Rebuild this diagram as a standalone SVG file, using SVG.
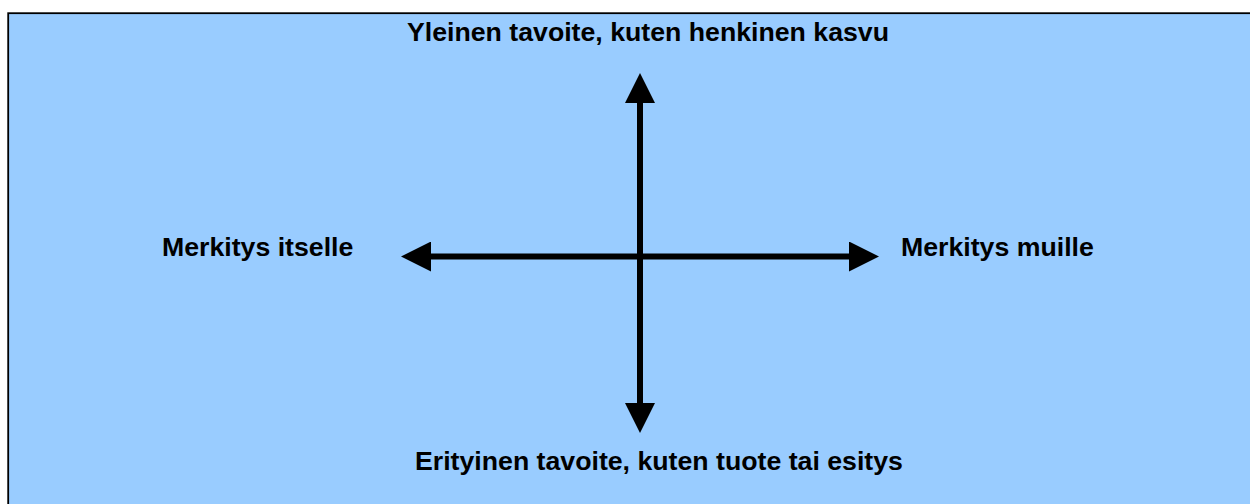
<svg xmlns="http://www.w3.org/2000/svg" width="1250" height="504" viewBox="0 0 1250 504">
  <style>
    .lbl { font-family: "Liberation Sans", Arial, sans-serif; font-weight: bold; font-size: 26.7px; fill: #000000; }
    .axis { stroke: #000000; stroke-width: 6; fill: none; }
  </style>
  <defs>
    <marker id="head" markerUnits="userSpaceOnUse" markerWidth="30" markerHeight="30" viewBox="0 0 30 30" refX="0" refY="15" orient="auto">
      <path d="M0,0 L30,15 L0,30 Z" fill="#000000"/>
    </marker>
  </defs>
  <rect x="0" y="0" width="1250" height="504" fill="#ffffff"/>
  <rect id="background" x="8.2" y="13.2" width="1300" height="600" fill="#99CCFF" stroke="#000000" stroke-width="1.8"/>
  <g id="connectors">
    <line class="axis" x1="640" y1="256.5" x2="640" y2="103" marker-end="url(#head)"/>
    <line class="axis" x1="640" y1="256.5" x2="640" y2="403" marker-end="url(#head)"/>
    <line class="axis" x1="640" y1="256.5" x2="431" y2="256.5" marker-end="url(#head)"/>
    <line class="axis" x1="640" y1="256.5" x2="849" y2="256.5" marker-end="url(#head)"/>
  </g>
  <g id="node-top">
    <text class="lbl" x="407" y="41">Yleinen tavoite, kuten henkinen kasvu</text>
  </g>
  <g id="node-left">
    <text class="lbl" x="162" y="256">Merkitys itselle</text>
  </g>
  <g id="node-right">
    <text class="lbl" x="901" y="256">Merkitys muille</text>
  </g>
  <g id="node-bottom">
    <text class="lbl" x="415" y="470">Erityinen tavoite, kuten tuote tai esitys</text>
  </g>
</svg>
